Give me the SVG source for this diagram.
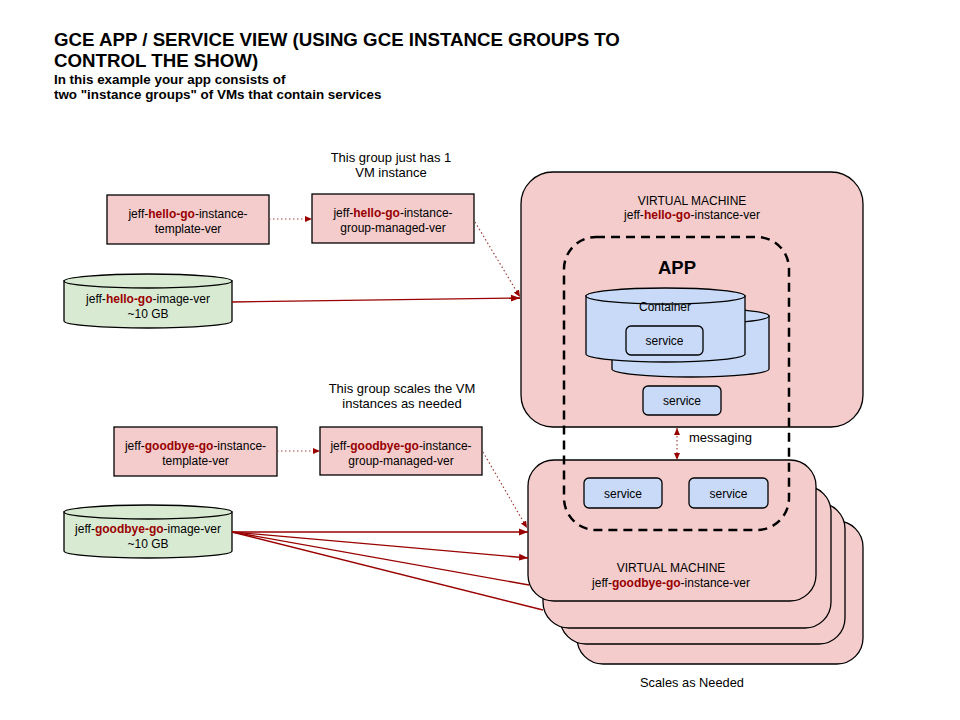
<svg xmlns="http://www.w3.org/2000/svg" width="960" height="720" viewBox="0 0 960 720">
<style>
text{font-family:"Liberation Sans",Arial,sans-serif;fill:#000}
.t12{font-size:12px;text-anchor:middle}
.t13{font-size:13px;text-anchor:middle}
.r{fill:#990000;font-weight:bold}
.pink{fill:#f4cccc;stroke:#000;stroke-width:1.3}
.green{fill:#d9ead3;stroke:#000;stroke-width:1.3}
.blue{fill:#c9daf8;stroke:#000;stroke-width:1.3}
.solid{stroke:#990000;stroke-width:1.3;fill:none}
.dot{stroke:#a0403f;stroke-width:1.2;fill:none;stroke-dasharray:1.5 2.5}
</style>
<defs>
<marker id="ah" markerUnits="userSpaceOnUse" markerWidth="10" markerHeight="8" refX="9" refY="4" orient="auto">
<path d="M0,0.5 L9,4 L0,7.5 Z" fill="#990000"/>
</marker>
<marker id="ahs" markerUnits="userSpaceOnUse" markerWidth="8" markerHeight="7" refX="7" refY="3.5" orient="auto-start-reverse">
<path d="M0,0.5 L7,3.5 L0,6.5 Z" fill="#990000"/>
</marker>
</defs>
<rect width="960" height="720" fill="#fff"/>

<g id="title">
<text x="54" y="46" style="font-size:18.7px;font-weight:bold">GCE APP / SERVICE VIEW (USING GCE INSTANCE GROUPS TO</text>
<text x="54" y="67" style="font-size:18.7px;font-weight:bold">CONTROL THE SHOW)</text>
<text x="54" y="84" style="font-size:13.4px;font-weight:bold">In this example your app consists of</text>
<text x="54" y="99" style="font-size:13.4px;font-weight:bold">two "instance groups" of VMs that contain services</text>
</g>

<g id="note-hello">
<text class="t13" x="391" y="162">This group just has 1</text>
<text class="t13" x="391" y="177">VM instance</text>
</g>
<g id="hello-template">
<rect class="pink" x="107" y="195" width="162" height="49"/>
<text class="t12" x="188" y="218">jeff-<tspan class="r">hello-go</tspan>-instance-</text>
<text class="t12" x="188" y="233">template-ver</text>
</g>
<g id="hello-group">
<rect class="pink" x="312" y="194" width="162" height="49"/>
<text class="t12" x="393" y="217">jeff-<tspan class="r">hello-go</tspan>-instance-</text>
<text class="t12" x="393" y="232">group-managed-ver</text>
</g>
<g id="hello-image">
<path class="green" d="M64,281 L64,321 A84,7 0 0 0 232,321 L232,281 Z"/>
<ellipse class="green" cx="148" cy="281" rx="84" ry="7"/>
<text class="t12" x="148" y="303">jeff-<tspan class="r">hello-go</tspan>-image-ver</text>
<text class="t12" x="148" y="318">~10 GB</text>
</g>

<g id="note-goodbye">
<text class="t13" x="402" y="393">This group scales the VM</text>
<text class="t13" x="402" y="408">instances as needed</text>
</g>
<g id="goodbye-template">
<rect class="pink" x="114" y="427" width="163" height="49"/>
<text class="t12" x="195.5" y="450">jeff-<tspan class="r">goodbye-go</tspan>-instance-</text>
<text class="t12" x="195.5" y="465">template-ver</text>
</g>
<g id="goodbye-group">
<rect class="pink" x="320" y="427" width="162" height="48"/>
<text class="t12" x="401" y="450">jeff-<tspan class="r">goodbye-go</tspan>-instance-</text>
<text class="t12" x="401" y="465">group-managed-ver</text>
</g>
<g id="goodbye-image">
<path class="green" d="M64,512 L64,551 A84,7 0 0 0 232,551 L232,512 Z"/>
<ellipse class="green" cx="148" cy="512" rx="84" ry="7"/>
<text class="t12" x="148" y="533">jeff-<tspan class="r">goodbye-go</tspan>-image-ver</text>
<text class="t12" x="148" y="548">~10 GB</text>
</g>

<g id="hello-vm">
<rect class="pink" x="521" y="172" width="342" height="255" rx="32"/>
<text class="t12" x="692" y="205">VIRTUAL MACHINE</text>
<text class="t12" x="692" y="219">jeff-<tspan class="r">hello-go</tspan>-instance-ver</text>
</g>

<g id="goodbye-vm-stack">
<rect class="pink" x="577" y="521" width="286" height="143" rx="26"/>
<rect class="pink" x="560" y="503" width="285" height="141" rx="26"/>
<rect class="pink" x="543" y="486" width="288" height="142" rx="26"/>
<rect class="pink" x="528" y="460" width="288" height="141" rx="26"/>
<text class="t12" x="671" y="572">VIRTUAL MACHINE</text>
<text class="t12" x="671" y="587">jeff-<tspan class="r">goodbye-go</tspan>-instance-ver</text>
</g>

<g id="app">
<rect x="564" y="237" width="225" height="293" rx="32" fill="none" stroke="#000" stroke-width="2.5" stroke-dasharray="9 6"/>
<text x="677" y="274" style="font-size:18.5px;font-weight:bold;text-anchor:middle">APP</text>
</g>

<g id="container">
<path class="blue" d="M612,316 L612,369 A78.5,8 0 0 0 769,369 L769,316 Z"/>
<ellipse class="blue" cx="690.5" cy="316" rx="78.5" ry="8"/>
<path class="blue" d="M586,296 L586,354 A79.5,8 0 0 0 745,354 L745,296 Z"/>
<ellipse class="blue" cx="665.5" cy="296" rx="79.5" ry="8"/>
<text class="t12" x="665" y="311">Container</text>
</g>
<g id="service-container">
<rect class="blue" x="626" y="326" width="77" height="29" rx="5"/>
<text class="t12" x="664.5" y="345">service</text>
</g>
<g id="service-hello">
<rect class="blue" x="643" y="386" width="78" height="29" rx="5"/>
<text class="t12" x="682" y="405">service</text>
</g>
<g id="service-goodbye-1">
<rect class="blue" x="584" y="478" width="78" height="30" rx="5"/>
<text class="t12" x="623" y="498">service</text>
</g>
<g id="service-goodbye-2">
<rect class="blue" x="689" y="478" width="79" height="30" rx="5"/>
<text class="t12" x="728.5" y="498">service</text>
</g>

<g id="scales-label">
<text x="692" y="687" style="font-size:12.8px;text-anchor:middle">Scales as Needed</text>
</g>

<g id="connectors">
<line class="dot" x1="269" y1="219" x2="312" y2="219" marker-end="url(#ahs)"/>
<line class="dot" x1="475" y1="222" x2="520" y2="297" marker-end="url(#ahs)"/>
<line class="solid" x1="232" y1="302" x2="520" y2="298" marker-end="url(#ah)"/>
<line class="dot" x1="277" y1="451" x2="320" y2="451" marker-end="url(#ahs)"/>
<line class="dot" x1="483" y1="452" x2="527" y2="528" marker-end="url(#ahs)"/>
<line class="solid" x1="232" y1="532" x2="528" y2="532" marker-end="url(#ah)"/>
<line class="solid" x1="232" y1="532" x2="528" y2="558" marker-end="url(#ah)"/>
<line class="solid" x1="232" y1="532" x2="529" y2="585"/>
<line class="solid" x1="232" y1="532" x2="543" y2="610"/>
<line class="dot" x1="677" y1="428" x2="677" y2="460" marker-start="url(#ahs)" marker-end="url(#ahs)"/>
<text x="689" y="442" style="font-size:13px">messaging</text>
</g>
</svg>
